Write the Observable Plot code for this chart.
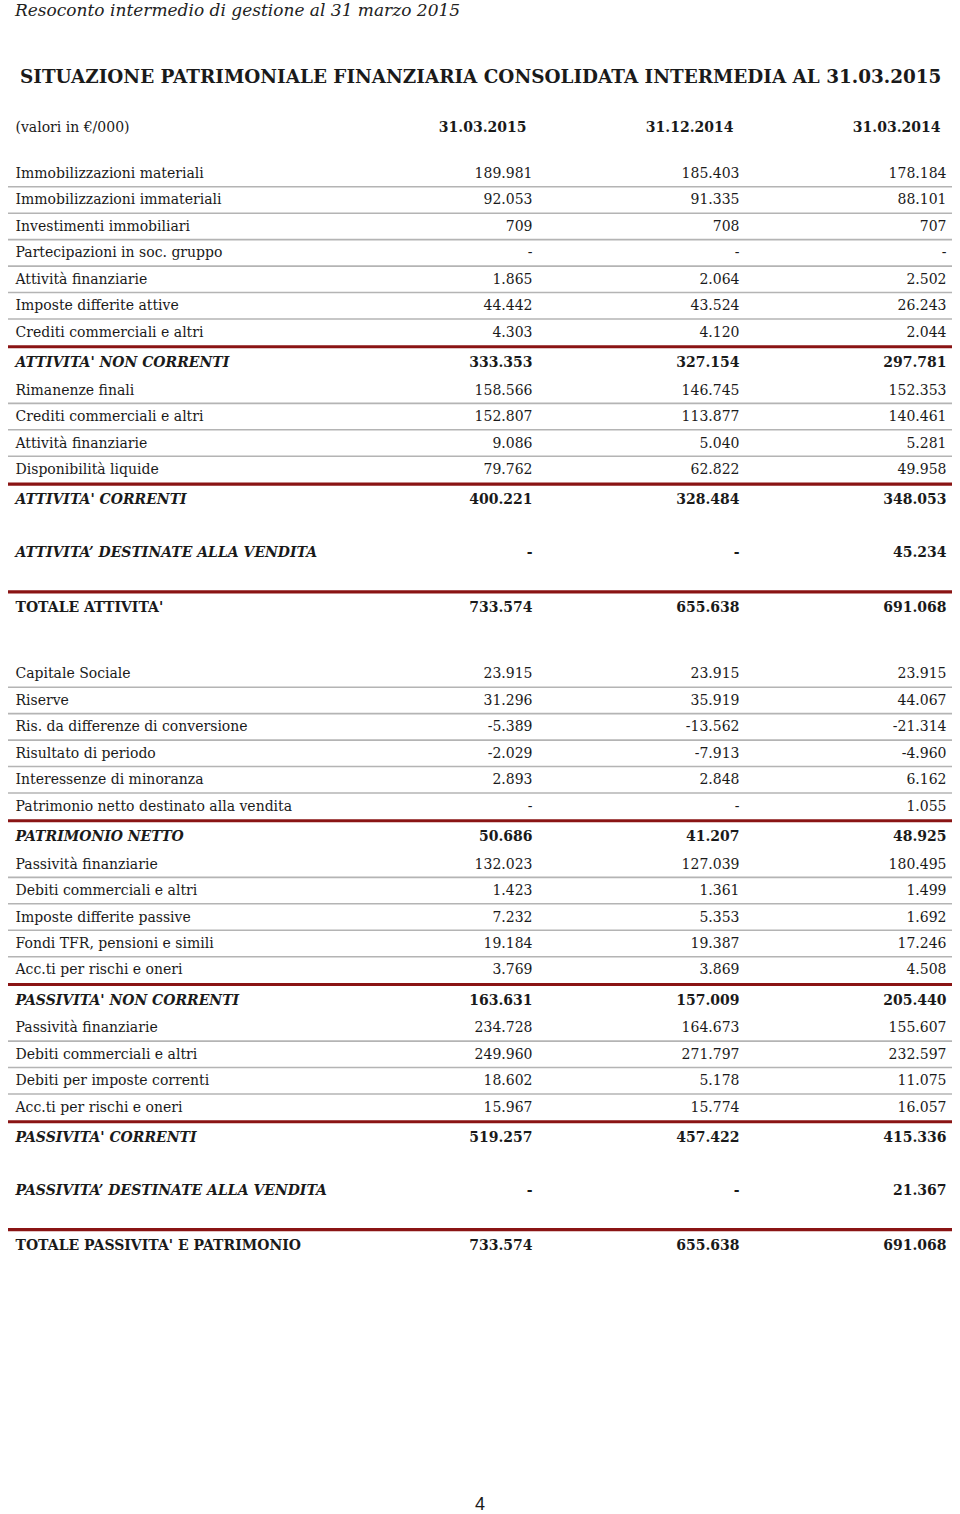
<!DOCTYPE html>
<html>
<head>
<meta charset="utf-8">
<script src="https://cdn.jsdelivr.net/npm/d3@7"></script>
<script src="https://cdn.jsdelivr.net/npm/@observablehq/plot@0.6"></script>
<style>
  html, body { margin: 0; padding: 0; background: #fff; }
  body { width: 960px; height: 1514px; overflow: hidden; color: #1a1a1a; }
  #top { height: 22px; line-height: 22px; font: italic 17px "DejaVu Serif", serif; padding-left: 15px; color: #222; white-space: nowrap; }
  #title { margin-top: 44px; height: 24px; line-height: 24px; font: bold 18.4px "DejaVu Serif", serif; padding-left: 20px; white-space: nowrap; }
  #chart { margin-top: 10px; height: 1170px; }
  #chart svg { display: block; }
  #page { margin-top: 224px; height: 20px; line-height: 20px; text-align: center; font: 18px "Liberation Sans", Arial, sans-serif; }
</style>
</head>
<body>
<div id="top">Resoconto intermedio di gestione al 31 marzo 2015</div>
<div id="title">SITUAZIONE PATRIMONIALE FINANZIARIA CONSOLIDATA INTERMEDIA AL 31.03.2015</div>
<div id="chart"></div>
<div id="page">4</div>
<script>
const unitLabel = "(valori in €/000)";
const dates = ["31.03.2015", "31.12.2014", "31.03.2014"];

const labels = [
  "Immobilizzazioni materiali", "Immobilizzazioni immateriali", "Investimenti immobiliari",
  "Partecipazioni in soc. gruppo", "Attività finanziarie", "Imposte differite attive",
  "Crediti commerciali e altri", "ATTIVITA' NON CORRENTI",
  "Rimanenze finali", "Crediti commerciali e altri", "Attività finanziarie", "Disponibilità liquide",
  "ATTIVITA' CORRENTI", "ATTIVITA’ DESTINATE ALLA VENDITA", "TOTALE ATTIVITA'",
  "Capitale Sociale", "Riserve", "Ris. da differenze di conversione", "Risultato di periodo",
  "Interessenze di minoranza", "Patrimonio netto destinato alla vendita", "PATRIMONIO NETTO",
  "Passività finanziarie", "Debiti commerciali e altri", "Imposte differite passive",
  "Fondi TFR, pensioni e simili", "Acc.ti per rischi e oneri", "PASSIVITA' NON CORRENTI",
  "Passività finanziarie", "Debiti commerciali e altri", "Debiti per imposte correnti",
  "Acc.ti per rischi e oneri", "PASSIVITA' CORRENTI", "PASSIVITA’ DESTINATE ALLA VENDITA",
  "TOTALE PASSIVITA' E PATRIMONIO"
];

const kinds = [
  "detail", "detail", "detail", "detail", "detail", "detail", "detail", "subtotal",
  "detail", "detail", "detail", "detail", "subtotal", "held", "total",
  "detail", "detail", "detail", "detail", "detail", "detail", "subtotal",
  "detail", "detail", "detail", "detail", "detail", "subtotal",
  "detail", "detail", "detail", "detail", "subtotal", "held", "total"
];

const v2015mar = [
  189981, 92053, 709, null, 1865, 44442, 4303, 333353,
  158566, 152807, 9086, 79762, 400221, null, 733574,
  23915, 31296, -5389, -2029, 2893, null, 50686,
  132023, 1423, 7232, 19184, 3769, 163631,
  234728, 249960, 18602, 15967, 519257, null, 733574
];
const v2014dec = [
  185403, 91335, 708, null, 2064, 43524, 4120, 327154,
  146745, 113877, 5040, 62822, 328484, null, 655638,
  23915, 35919, -13562, -7913, 2848, null, 41207,
  127039, 1361, 5353, 19387, 3869, 157009,
  164673, 271797, 5178, 15774, 457422, null, 655638
];
const v2014mar = [
  178184, 88101, 707, null, 2502, 26243, 2044, 297781,
  152353, 140461, 5281, 49958, 348053, 45234, 691068,
  23915, 44067, -21314, -4960, 6162, 1055, 48925,
  180495, 1499, 1692, 17246, 4508, 205440,
  155607, 232597, 11075, 16057, 415336, 21367, 691068
];

const series = [v2015mar, v2014dec, v2014mar];
const fmt = d3.formatLocale({decimal: ",", thousands: ".", grouping: [3], currency: ["€", ""], minus: "-"}).format(",d");

// Row layout in "row units" (one unit = one regular row step)
const gap = (prev, cur) => {
  if (prev === "header") return 1.74;
  if (prev === "detail" && cur === "detail") return 1;
  if (prev === "detail") return 1.15;
  if (prev === "subtotal" && cur === "detail") return 1.04;
  if (prev === "subtotal") return 2.0;
  if (prev === "held") return 2.08;
  if (prev === "total") return 2.5;
  return 1;
};
const rows = [];
let pos = 0, prev = "header";
labels.forEach((label, i) => {
  pos += gap(prev, kinds[i]);
  rows.push({label, kind: kinds[i], pos, i});
  prev = kinds[i];
});

const cells = [];
rows.forEach(r => dates.forEach((d, j) => {
  const v = series[j][r.i];
  cells.push({col: d, pos: r.pos, kind: r.kind, text: v == null ? "-" : fmt(v)});
}));

const grayRules = rows.filter((r, k) => r.kind === "detail" && rows[k + 1] && rows[k + 1].kind === "detail").map(r => ({pos: r.pos + 0.5}));
const redRules = rows.filter((r, k) => (r.kind === "subtotal" || r.kind === "total") && k > 0).map(r => ({pos: r.pos - 0.6}));

const header = dates.map(d => ({col: d, pos: 0, text: d}));

const boldItalic = k => k === "subtotal" || k === "held";

const chart = Plot.plot({
  width: 960,
  height: 1170,
  marginTop: 0, marginBottom: 0, marginLeft: 8, marginRight: 8,
  x: {type: "point", domain: dates, range: [531, 946], padding: 0, align: 0.5, axis: null},
  y: {type: "linear", domain: [0, 1], range: [27, 53.45], axis: null},
  style: {fontFamily: "'DejaVu Serif', serif", fontSize: "14px", color: "#1a1a1a", background: "#fff"},
  marks: [
    Plot.ruleY(grayRules, {y: "pos", stroke: "#b4b4b4", strokeWidth: 1.6}),
    Plot.ruleY(redRules, {y: "pos", stroke: "#8a1414", strokeWidth: 3.2}),
    Plot.text([unitLabel], {y: [0], text: d => d, frameAnchor: "left", dx: 7, textAnchor: "start", fill: "#1a1a1a"}),
    Plot.text(header, {x: "col", y: "pos", text: "text", textAnchor: "end", dx: -6, fontWeight: "bold", fill: "#1a1a1a"}),
    Plot.text(rows.filter(r => r.kind === "detail"), {y: "pos", text: "label", frameAnchor: "left", dx: 7, textAnchor: "start", fill: "#1a1a1a"}),
    Plot.text(rows.filter(r => boldItalic(r.kind)), {y: "pos", text: "label", frameAnchor: "left", dx: 7, textAnchor: "start", fontWeight: "bold", fontStyle: "italic", fill: "#1a1a1a"}),
    Plot.text(rows.filter(r => r.kind === "total"), {y: "pos", text: "label", frameAnchor: "left", dx: 7, textAnchor: "start", fontWeight: "bold", fill: "#1a1a1a"}),
    Plot.text(cells.filter(c => c.kind === "detail"), {x: "col", y: "pos", text: "text", textAnchor: "end", fill: "#1a1a1a"}),
    Plot.text(cells.filter(c => c.kind !== "detail"), {x: "col", y: "pos", text: "text", textAnchor: "end", fontWeight: "bold", fill: "#1a1a1a"})
  ]
});
document.getElementById("chart").appendChild(chart);
</script>
</body>
</html>
